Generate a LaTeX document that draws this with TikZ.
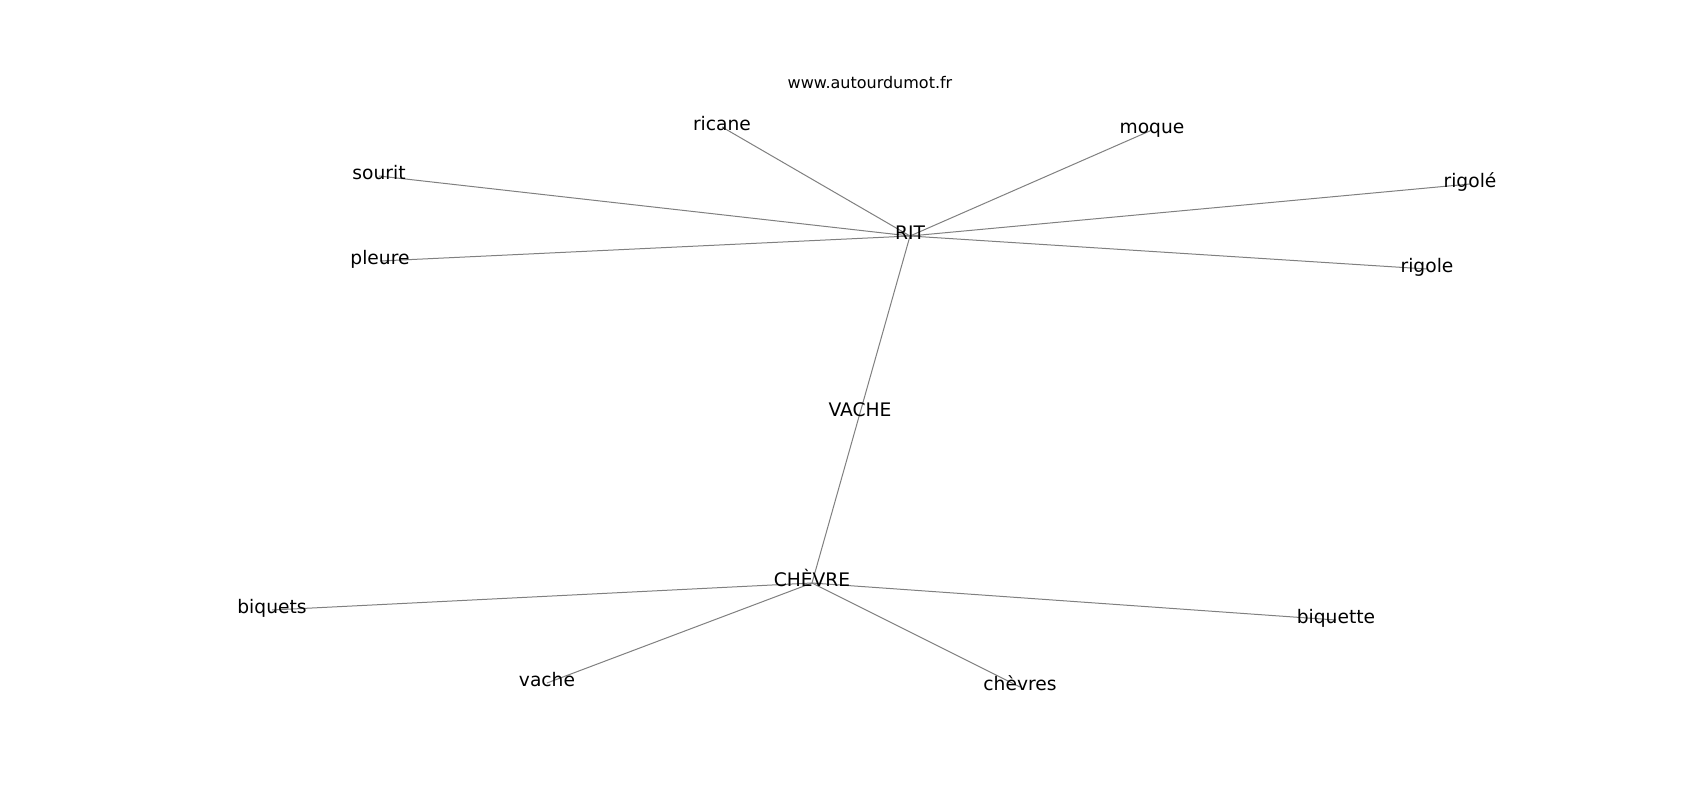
\documentclass[tikz,border=0pt]{standalone}
\usepackage{fontspec}
\setmainfont{DejaVu Sans}
\begin{document}
\begin{tikzpicture}[x=0.75pt,y=-0.75pt,
  word/.style={inner sep=0pt,anchor=center,font=\fontsize{14}{16}\selectfont,text height=0.76em,text depth=0.24em},
  edge/.style={draw=gray,line width=0.75pt}]
\useasboundingbox[fill=white] (0,0) rectangle (1700,800);
\begin{scope}[yshift=-2.25pt]
\coordinate (cRIT) at (910,233);
\coordinate (cVACHE) at (860,410);
\coordinate (cCHEVRE) at (812,580);
\coordinate (cricane) at (722,124);
\coordinate (cmoque) at (1152,127);
\coordinate (csourit) at (379,173);
\coordinate (crigoleacc) at (1470,181);
\coordinate (cpleure) at (380,258);
\coordinate (crigole) at (1427,266);
\coordinate (cbiquets) at (272,607);
\coordinate (cbiquette) at (1336,617);
\coordinate (cvache) at (547,680);
\coordinate (cchevres) at (1020,684);
\foreach \n in {ricane,moque,sourit,rigoleacc,pleure,rigole,VACHE}
  \draw[edge] (cRIT) -- (c\n);
\foreach \n in {VACHE,biquets,biquette,vache,chevres}
  \draw[edge] (cCHEVRE) -- (c\n);
\node[word] (RIT) at (cRIT) {RIT};
\node[word] (VACHE) at (cVACHE) {VACHE};
\node[word] (CHEVRE) at (cCHEVRE) {CHÈVRE};
\node[word] (ricane) at (cricane) {ricane};
\node[word] (moque) at (cmoque) {moque};
\node[word] (sourit) at (csourit) {sourit};
\node[word] (rigoleacc) at (crigoleacc) {rigolé};
\node[word] (pleure) at (cpleure) {pleure};
\node[word] (rigole) at (crigole) {rigole};
\node[word] (biquets) at (cbiquets) {biquets};
\node[word] (biquette) at (cbiquette) {biquette};
\node[word] (vache) at (cvache) {vache};
\node[word] (chevres) at (cchevres) {chèvres};
\node[inner sep=0pt,font=\fontsize{12}{14}\selectfont,text height=0.76em,text depth=0.24em] (title) at (870,82) {www.autourdumot.fr};
\end{scope}
\end{tikzpicture}
\end{document}
